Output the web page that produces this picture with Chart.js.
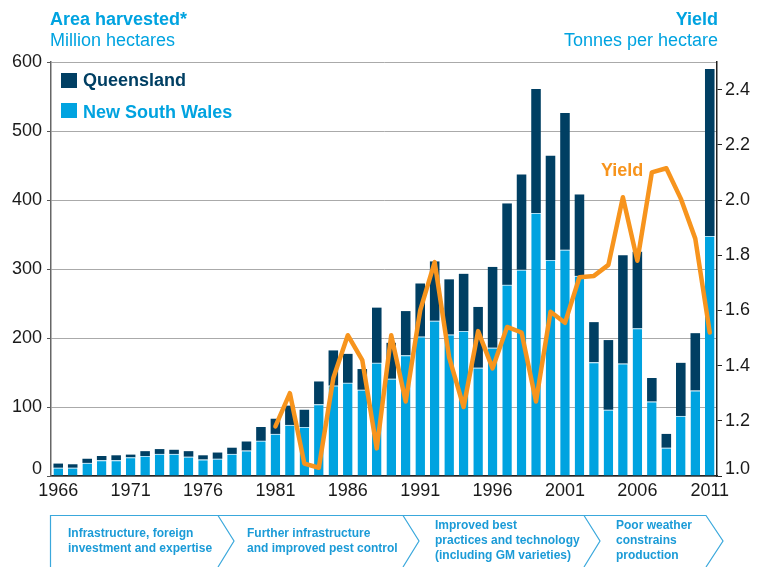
<!DOCTYPE html>
<html>
<head>
<meta charset="utf-8">
<script src="https://cdn.jsdelivr.net/npm/chart.js@4/dist/chart.umd.min.js"></script>
<style>
  html, body { margin: 0; padding: 0; background: #fff; }
  #wrap { position: relative; width: 758px; height: 567px; overflow: hidden; font-family: "Liberation Sans", Arial, sans-serif; }
  canvas { position: absolute; left: 0; top: 0; }
  .t { position: absolute; font-size: 18px; line-height: 18px; white-space: nowrap; color: #00A3E0; }
  .b { font-weight: bold; }
  .leg { position: absolute; font-size: 18px; line-height: 18px; font-weight: bold; white-space: nowrap; }
  .sw { position: absolute; width: 16px; height: 15px; }
  .bn { position: absolute; font-size: 12px; line-height: 15px; font-weight: bold; color: #1B9BD7; white-space: nowrap; }
  svg { position: absolute; left: 0; top: 0; }
</style>
</head>
<body>
<div id="wrap">
  <canvas id="c" width="758" height="567"></canvas>

  <div class="t b" style="left:50px; top:10px;">Area harvested*</div>
  <div class="t" style="left:50px; top:31px;">Million hectares</div>
  <div class="t b" style="right:40px; top:10px; text-align:right;">Yield</div>
  <div class="t" style="right:40px; top:31px; text-align:right;">Tonnes per hectare</div>

  <div class="sw" style="left:61px; top:73px; background:#003F63;"></div>
  <div class="leg" style="left:83px; top:71px; color:#003F63;">Queensland</div>
  <div class="sw" style="left:61px; top:103px; background:#00A3E0;"></div>
  <div class="leg" style="left:83px; top:103px; color:#00A3E0;">New South Wales</div>

  <div class="leg" style="left:601px; top:161px; color:#F7941D;">Yield</div>

  <svg width="758" height="567" viewBox="0 0 758 567">
    <path d="M50.5,570 L50.5,515.5 L706,515.5 L723,541 L706,567" fill="none" stroke="#3AA8DC" stroke-width="1.2"/>
    <path d="M218,515.5 L234,541 L218,567" fill="none" stroke="#3AA8DC" stroke-width="1.2"/>
    <path d="M403,515.5 L419,541 L403,567" fill="none" stroke="#3AA8DC" stroke-width="1.2"/>
    <path d="M584,515.5 L600,541 L584,567" fill="none" stroke="#3AA8DC" stroke-width="1.2"/>
  </svg>
  <div class="bn" style="left:68px; top:526px;">Infrastructure, foreign<br>investment and expertise</div>
  <div class="bn" style="left:247px; top:526px;">Further infrastructure<br>and improved pest control</div>
  <div class="bn" style="left:435px; top:518px;">Improved best<br>practices and technology<br>(including GM varieties)</div>
  <div class="bn" style="left:616px; top:518px;">Poor weather<br>constrains<br>production</div>
</div>

<script>
// ---- Data ----
const years = [1966,1967,1968,1969,1970,1971,1972,1973,1974,1975,1976,1977,1978,1979,1980,
  1981,1982,1983,1984,1985,1986,1987,1988,1989,1990,1991,1992,1993,1994,1995,
  1996,1997,1998,1999,2000,2001,2002,2003,2004,2005,2006,2007,2008,2009,2010,2011];

const newSouthWales = [12,12,19,23,23,27,29,32,32,28,24,25,32,37,51,
  61,74,71,104,131,135,125,164,141,175,202,225,205,210,157,
  186,277,299,381,313,328,290,165,96,163,214,108,41,87,124,348];

const queensland = [6,5,6,6,7,4,7,7,6,8,6,9,9,13,20,
  22,28,25,33,51,42,30,80,52,64,77,86,80,83,88,
  117,118,138,180,151,198,118,58,101,157,111,34,20,77,83,242];

const yieldValues = [null,null,null,null,null,null,null,null,null,null,null,null,null,null,null,
  1.18,1.30,1.045,1.03,1.355,1.51,1.42,1.10,1.51,1.27,1.60,1.775,1.43,1.25,1.525,
  1.39,1.54,1.52,1.27,1.595,1.555,1.72,1.725,1.765,2.01,1.78,2.10,2.115,2.005,1.86,1.52];

const xTickYears = [1966,1971,1976,1981,1986,1991,1996,2001,2006,2011];
const areaTicks = [0,100,200,300,400,500,600];
const yieldTicks = [1.0,1.2,1.4,1.6,1.8,2.0,2.2,2.4];

// ---- Chart ----
Chart.defaults.font.family = '"Liberation Sans", Arial, sans-serif';
Chart.defaults.font.size = 18;
Chart.defaults.color = '#1a1a1a';

// bottom-most labels sit slightly above the baseline, as in the original
const raisedFont = (ctx) => ctx.index === 0 ? { size: 18, lineHeight: '13px' } : { size: 18 };

new Chart(document.getElementById('c'), {
  data: {
    labels: years,
    datasets: [
      { type: 'line', label: 'Yield', data: yieldValues, yAxisID: 'y1', order: 0,
        borderColor: '#F7941D', borderWidth: 4.5, pointRadius: 0, tension: 0,
        borderJoinStyle: 'round', borderCapStyle: 'round', spanGaps: false },
      { type: 'bar', label: 'New South Wales', data: newSouthWales, yAxisID: 'y', order: 1,
        backgroundColor: '#00A3E0', borderColor: '#A8DDF4', borderWidth: { top: 1 }, borderSkipped: 'bottom',
        barPercentage: 0.66, categoryPercentage: 1.0, stack: 's' },
      { type: 'bar', label: 'Queensland', data: queensland, yAxisID: 'y', order: 2,
        backgroundColor: '#003F63', borderWidth: 0,
        barPercentage: 0.66, categoryPercentage: 1.0, stack: 's' }
    ]
  },
  options: {
    responsive: false,
    animation: false,
    layout: { padding: { top: 62, bottom: 61, left: 0, right: 0 } },
    plugins: { legend: { display: false }, tooltip: { enabled: false } },
    scales: {
      x: {
        stacked: true,
        grid: { display: false, drawTicks: false },
        border: { display: true, color: '#222', width: 1.5 },
        ticks: {
          autoSkip: false, maxRotation: 0, minRotation: 0, padding: 4,
          callback: function (v, i) { const yr = years[i]; return xTickYears.includes(yr) ? String(yr) : ''; }
        },
        afterFit: function (s) { s.height = 30; }
      },
      y: {
        stacked: true, position: 'left', min: 0, max: 600,
        afterBuildTicks: function (s) { s.ticks = areaTicks.map(v => ({ value: v })); },
        grid: { color: '#AAAAAA', lineWidth: 1, drawTicks: true, tickLength: 4, tickColor: '#555' },
        border: { display: true, color: '#666', width: 1.5 },
        ticks: { padding: 5, font: raisedFont,
          callback: v => v === 0 ? ['0', ''] : String(v) },
        afterFit: function (s) { s.width = 51; }
      },
      y1: {
        position: 'right', min: 1.0, max: 2.5,
        afterBuildTicks: function (s) { s.ticks = yieldTicks.map(v => ({ value: v })); },
        grid: { drawOnChartArea: false, drawTicks: true, tickLength: 5, color: '#222' },
        border: { display: true, color: '#222', width: 1.5 },
        ticks: { padding: 3, font: raisedFont,
          callback: v => Math.abs(v - 1) < 1e-9 ? ['1.0', ''] : Number(v).toFixed(1) },
        afterFit: function (s) { s.width = 41; }
      }
    }
  }
});
</script>
</body>
</html>
